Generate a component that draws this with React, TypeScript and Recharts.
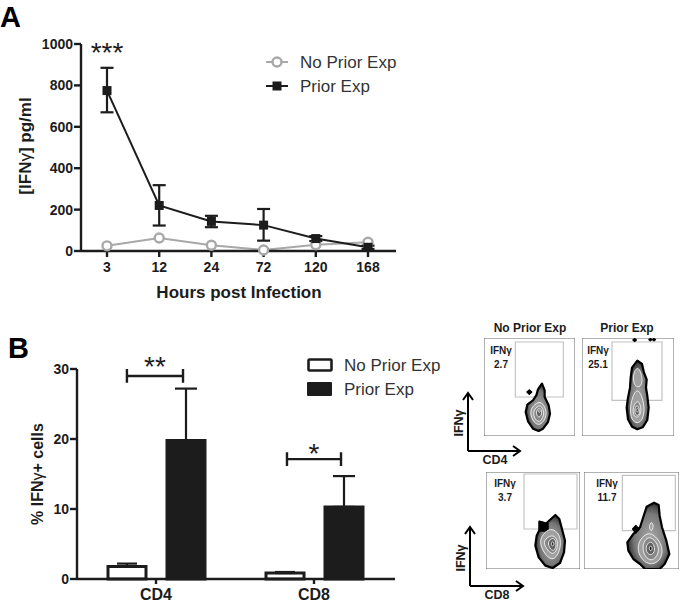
import React from "react";
import {
  Bar,
  ComposedChart,
  ErrorBar,
  Legend,
  Line,
  LineChart,
  ReferenceArea,
  ReferenceDot,
  Scatter,
  ScatterChart,
  XAxis,
  YAxis,
} from "recharts";

const FONT = '"Liberation Sans", Arial, sans-serif';
const INK = "#1c1c1c";
const GREY = "#a8a8a8";

// Panel A: IFNy over time
const hours = ["3", "12", "24", "72", "120", "168"];
const noPriorSerum = [25, 63, 28, 5, 30, 42];
const noPriorSerumErr = [4, 6, 4, 3, 4, 4];
const priorSerum = [775, 220, 143, 125, 60, 18];
const priorSerumLow = [105, 97, 28, 75, 12, 8];
const priorSerumHigh = [110, 98, 27, 78, 12, 8];
const serumTicks = [0, 200, 400, 600, 800, 1000];

// Panel B: IFNy+ cells
const subsets = ["CD4", "CD8"];
const noPriorCells = [1.8, 0.85];
const noPriorCellsErr = [0.4, 0.15];
const priorCells = [19.8, 10.3];
const priorCellsErr = [7.4, 4.4];
const cellTicks = [0, 10, 20, 30];
// bracket ends in group units: 0.5 is the centre of CD4, 1.5 of CD8
const brackets = [
  { from: 0.316, to: 0.671, y: 29.3, mark: "**", markY: 30.7 },
  { from: 1.329, to: 1.671, y: 17.3, mark: "*", markY: 18.2 },
];

const serumRows = hours.map((hour, i) => ({
  hour,
  noPrior: noPriorSerum[i],
  noPriorErr: [noPriorSerumErr[i], noPriorSerumErr[i]],
  prior: priorSerum[i],
  priorErr: [priorSerumLow[i], priorSerumHigh[i]],
}));

const cellRows = subsets.map((subset, i) => ({
  subset,
  noPrior: noPriorCells[i],
  noPriorErr: [0, noPriorCellsErr[i]],
  prior: priorCells[i],
  priorErr: [0, priorCellsErr[i]],
}));

// Flow plots: contour outlines in channel units, outermost first
const cd4NoPriorEdge = [[174,157],[182,137],[182,117],[194,92],[198,67],[192,42],[177,22],[164,15],[147,22],[132,44],[125,72],[130,94],[147,107],[157,122],[162,140],[169,150]];
const cd4NoPriorDots = [[[136,138],[143,132],[136,125],[129,132]]];
const cd4NoPriorLevels = [
  [[170,105],[185,85],[188,62],[178,42],[165,32],[150,40],[140,60],[140,80],[152,95]],
  [[168,95],[178,80],[180,62],[172,48],[165,42],[155,48],[148,62],[150,80]],
  [[167,87],[174,75],[172,62],[165,55],[158,62],[156,75]],
  [[166,80],[170,75],[166,69],[162,75]],
];

const cd4PriorEdge = [[166,226],[180,216],[186,190],[194,170],[192,145],[196,120],[200,85],[196,48],[182,26],[166,20],[150,28],[138,50],[134,85],[138,115],[144,145],[146,175],[150,205]];
const cd4PriorDots = [[[158,292],[163,288],[158,284],[153,288]], [[205,292],[209,289],[205,286],[201,289]], [[216,292],[220,289],[216,286],[212,289]]];
const cd4PriorLevels = [
  [[166,210],[178,190],[182,160],[172,145],[156,150],[152,185]],
  [[166,145],[182,115],[188,80],[182,48],[166,36],[148,48],[144,80],[150,115]],
  [[166,110],[176,92],[178,70],[166,52],[154,62],[152,85]],
  [[166,95],[173,80],[172,65],[166,60],[158,68],[158,82]],
  [[166,85],[170,77],[166,70],[161,77]],
];

const cd8NoPriorEdge = [[208,162],[220,150],[228,120],[237,85],[234,50],[222,18],[200,3],[178,10],[158,35],[148,70],[152,100],[160,116],[160,142],[180,136],[195,150]];
const cd8NoPriorDots = [[[162,142],[186,136],[186,114],[162,114]]];
const cd8NoPriorLevels = [
  [[195,125],[222,105],[225,70],[215,40],[198,25],[175,45],[160,80],[170,105]],
  [[198,105],[215,90],[215,60],[200,40],[180,62],[170,85]],
  [[200,95],[210,85],[210,62],[200,52],[188,68],[186,82]],
  [[200,85],[205,75],[200,66],[195,75]],
];

const cd8PriorEdge = [[210,199],[224,192],[227,160],[234,125],[247,85],[256,45],[242,15],[227,0],[183,0],[168,15],[148,30],[133,55],[130,80],[148,105],[168,125],[176,150],[188,187]];
const cd8PriorDots = [[[155,130],[166,120],[155,108],[146,120]]];
const cd8PriorLevels = [
  [[202,145],[210,128],[202,110],[194,125]],
  [[202,108],[228,85],[238,50],[225,22],[200,12],[175,25],[160,55],[165,85],[185,105]],
  [[200,98],[222,75],[225,50],[212,30],[198,25],[180,40],[175,70],[185,90]],
  [[200,85],[212,70],[212,50],[200,40],[186,50],[186,72]],
  [[200,72],[206,62],[200,52],[194,62]],
];

const flowBottomTicks = [6, 20, 30, 38, 44, 62, 90, 108, 118, 126, 132, 150, 178, 196, 206, 214, 220, 238, 262];
const flowLeftTicks = [32, 62, 132, 197, 262];

const levelFills = ["#a0a0a0", "#868686", "#626262", "#1e1e1e"];

const flowPanels = [
  { key: "cd4-none", left: 484, top: 338, width: 91, height: 98, gate: [94, 238, 117, 282], edge: cd4NoPriorEdge, dots: cd4NoPriorDots, levels: cd4NoPriorLevels },
  { key: "cd4-prior", left: 582, top: 338, width: 92, height: 98, gate: [90, 240, 107, 282], edge: cd4PriorEdge, dots: cd4PriorDots, levels: cd4PriorLevels },
  { key: "cd8-none", left: 486, top: 472, width: 94, height: 97, gate: [114, 273, 120, 285], edge: cd8NoPriorEdge, dots: cd8NoPriorDots, levels: cd8NoPriorLevels },
  { key: "cd8-prior", left: 584, top: 472, width: 95, height: 97, gate: [115, 274, 115, 281], edge: cd8PriorEdge, dots: cd8PriorDots, levels: cd8PriorLevels },
];

const toPoints = (outline: number[][]) => outline.map(([x, y]) => ({ x, y }));
const noMark = () => <g />;

function contour(
  key: string,
  outline: number[][],
  fill: string,
  stroke: string,
  strokeWidth: number,
  joint: "linearClosed" | "basisClosed"
) {
  return (
    <Scatter
      key={key}
      data={toPoints(outline)}
      line={{ fill, stroke, strokeWidth, strokeLinejoin: "round" }}
      lineJointType={joint}
      shape={noMark}
      isAnimationActive={false}
    />
  );
}

function FlowPlot({ panel }: { panel: (typeof flowPanels)[number] }) {
  const [x1, x2, y1, y2] = panel.gate;
  const xMax = panel.width * 3;
  const yMax = panel.height * 3;
  const tickLine = { stroke: "#555", strokeWidth: 1 };
  return (
    <div style={{ position: "absolute", left: panel.left, top: panel.top }}>
      <ScatterChart width={panel.width} height={panel.height} margin={{ top: 0, right: 0, bottom: 0, left: 0 }}>
        <XAxis
          type="number"
          dataKey="x"
          domain={[0, xMax]}
          ticks={flowBottomTicks}
          height={0}
          mirror
          axisLine={false}
          tickLine={tickLine}
          tickSize={2}
          tickFormatter={() => ""}
        />
        <YAxis
          type="number"
          dataKey="y"
          domain={[0, yMax]}
          ticks={flowLeftTicks}
          width={0}
          mirror
          axisLine={false}
          tickLine={tickLine}
          tickSize={3}
          tickFormatter={() => ""}
        />
        <ReferenceArea x1={0} x2={xMax} y1={0} y2={yMax} fill="none" stroke="#666" strokeWidth={1} />
        <ReferenceArea x1={x1} x2={x2} y1={y1} y2={y2} fill="none" stroke="#c2c2c2" strokeWidth={1.2} />
        {contour(panel.key + "-edge", panel.edge, "url(#flowEdge)", "#000", 2.2, "linearClosed")}
        {panel.dots.map((dot, i) => contour(panel.key + "-dot" + i, dot, "#000", "#000", 1.5, "linearClosed"))}
        {panel.levels.map((level, i) =>
          contour(
            panel.key + "-level" + i,
            level,
            levelFills[Math.max(0, i - (panel.levels.length - levelFills.length))],
            "#fff",
            0.8,
            "basisClosed"
          )
        )}
      </ScatterChart>
    </div>
  );
}

const axisLine = { stroke: INK, strokeWidth: 2.4 };
const tickStyle = { fontFamily: FONT, fontSize: 14, fontWeight: 700, fill: INK };
const legendText = { fontFamily: FONT, fontSize: 17, fill: "#333" };

function SerumLegend() {
  return (
    <svg width={150} height={48} style={{ display: "block" }}>
      <line x1={0} x2={22} y1={12} y2={12} stroke={GREY} strokeWidth={2} />
      <circle cx={11} cy={12} r={4.5} fill="#fff" stroke={GREY} strokeWidth={2.4} />
      <text x={34} y={18} {...legendText}>No Prior Exp</text>
      <line x1={0} x2={22} y1={36} y2={36} stroke={INK} strokeWidth={2} />
      <rect x={6.5} y={31.5} width={9} height={9} fill={INK} />
      <text x={34} y={42} {...legendText}>Prior Exp</text>
    </svg>
  );
}

function CellLegend() {
  return (
    <svg width={150} height={54} style={{ display: "block" }}>
      <rect x={1.5} y={5.5} width={23} height={11} rx={1} fill="#fff" stroke={INK} strokeWidth={2.6} />
      <text x={37} y={17} {...legendText}>No Prior Exp</text>
      <rect x={0} y={28} width={25} height={14} rx={1} fill={INK} />
      <text x={37} y={41} {...legendText}>Prior Exp</text>
    </svg>
  );
}

function SquareDot({ cx, cy }: { cx?: number; cy?: number }) {
  return <rect x={(cx ?? 0) - 4.5} y={(cy ?? 0) - 4.5} width={9} height={9} fill={INK} />;
}

function SerumChart() {
  return (
    <div style={{ position: "absolute", left: 0, top: 0 }}>
      <LineChart
        width={440}
        height={310}
        data={serumRows}
        margin={{ top: 44, right: 44, bottom: 29, left: 21 }}
      >
        <XAxis
          dataKey="hour"
          height={30}
          padding={{ left: 26, right: 28 }}
          axisLine={axisLine}
          tickLine={axisLine}
          tickSize={6}
          tick={tickStyle}
          tickMargin={5}
          interval={0}
        />
        <YAxis
          domain={[0, 1000]}
          ticks={serumTicks}
          width={60}
          axisLine={axisLine}
          tickLine={axisLine}
          tickSize={7}
          tick={tickStyle}
          tickMargin={1}
        />
        <Legend
          layout="horizontal"
          align="center"
          verticalAlign="middle"
          content={<SerumLegend />}
          wrapperStyle={{ left: 266, top: 50, width: 150 }}
        />
        <Line
          dataKey="noPrior"
          stroke={GREY}
          strokeWidth={2}
          dot={{ r: 4.5, fill: "#fff", stroke: GREY, strokeWidth: 2.4 }}
          isAnimationActive={false}
        >
          <ErrorBar dataKey="noPriorErr" width={4} stroke={GREY} strokeWidth={2} />
        </Line>
        <Line
          dataKey="prior"
          stroke={INK}
          strokeWidth={2}
          dot={<SquareDot />}
          isAnimationActive={false}
        >
          <ErrorBar dataKey="priorErr" width={6.5} stroke={INK} strokeWidth={2.2} />
        </Line>
        <ReferenceDot
          x="3"
          y={960}
          r={0}
          fill="none"
          stroke="none"
          label={{ value: "***", position: "center", fontFamily: FONT, fontSize: 28, fill: INK }}
        />
      </LineChart>
    </div>
  );
}

function CellChart() {
  return (
    <div style={{ position: "absolute", left: 0, top: 330 }}>
      <ComposedChart
        width={470}
        height={278}
        data={cellRows}
        barSize={38}
        barGap={21}
        margin={{ top: 39, right: 75, bottom: 0, left: 17 }}
      >
        <XAxis
          dataKey="subset"
          height={29}
          padding={{ left: 0, right: 2 }}
          axisLine={axisLine}
          tickLine={axisLine}
          tickSize={5}
          tick={{ ...tickStyle, fontSize: 16 }}
          tickMargin={5}
        />
        <YAxis
          domain={[0, 30]}
          ticks={cellTicks}
          width={60}
          axisLine={axisLine}
          tickLine={axisLine}
          tickSize={7}
          tick={tickStyle}
          tickMargin={1}
        />
        <Legend
          layout="horizontal"
          align="center"
          verticalAlign="middle"
          content={<CellLegend />}
          wrapperStyle={{ left: 307, top: 24, width: 150 }}
        />
        <Bar dataKey="noPrior" fill="#fff" stroke={INK} strokeWidth={3} isAnimationActive={false}>
          <ErrorBar dataKey="noPriorErr" width={10} stroke={INK} strokeWidth={2.2} />
        </Bar>
        <Bar dataKey="prior" fill={INK} stroke={INK} strokeWidth={3} isAnimationActive={false}>
          <ErrorBar dataKey="priorErr" width={11} stroke={INK} strokeWidth={2.2} />
        </Bar>
      </ComposedChart>
    </div>
  );
}

// Significance brackets sit on their own numeric scale over the same plot area
function BracketLayer() {
  return (
    <div style={{ position: "absolute", left: 0, top: 330 }}>
      <ScatterChart width={410} height={278} margin={{ top: 39, right: 15, bottom: 29, left: 77 }}>
        <XAxis type="number" dataKey="x" domain={[0, 2.0127]} hide />
        <YAxis type="number" dataKey="y" domain={[0, 30]} hide />
        {brackets.map((b) => (
          <Scatter
            key={b.mark}
            data={[
              { x: b.from, y: b.y - 1 },
              { x: b.from, y: b.y + 1 },
              { x: b.from, y: b.y },
              { x: b.to, y: b.y },
              { x: b.to, y: b.y + 1 },
              { x: b.to, y: b.y - 1 },
            ]}
            line={{ stroke: INK, strokeWidth: 2.4 }}
            shape={noMark}
            isAnimationActive={false}
          />
        ))}
        {brackets.map((b) => (
          <ReferenceDot
            key={"mark" + b.mark}
            x={(b.from + b.to) / 2}
            y={b.markY}
            r={0}
            fill="none"
            stroke="none"
            ifOverflow="visible"
            label={{ value: b.mark, position: "center", fontFamily: FONT, fontSize: 28, fill: INK }}
          />
        ))}
      </ScatterChart>
    </div>
  );
}

function Gamma() {
  return <tspan fontWeight={400}>γ</tspan>;
}

// Everything that is not tied to a scale: panel letters, axis titles, flow captions
function Annotations() {
  const bold = { fontFamily: FONT, fontWeight: 700, fill: INK };
  const arrow = { stroke: "#000", strokeWidth: 2, fill: "none" };
  return (
    <svg width={680} height={608} style={{ position: "absolute", left: 0, top: 0, pointerEvents: "none" }}>
      <defs>
        <radialGradient id="flowEdge" cx="55%" cy="55%" r="60%">
          <stop offset="0%" stopColor="#aaa" />
          <stop offset="65%" stopColor="#777" />
          <stop offset="100%" stopColor="#1a1a1a" />
        </radialGradient>
      </defs>
      <text x={0} y={26.5} fontFamily={FONT} fontWeight={700} fontSize={29} fill="#000">A</text>
      <text x={8} y={358} fontFamily={FONT} fontWeight={700} fontSize={29} fill="#000">B</text>

      <text x={31} y={146} transform="rotate(-90 31 146)" textAnchor="middle" fontSize={17} {...bold}>
        [IFN<Gamma />] pg/ml
      </text>
      <text x={239} y={298} textAnchor="middle" fontSize={17} {...bold}>Hours post Infection</text>
      <text x={43} y={474} transform="rotate(-90 43 474)" textAnchor="middle" fontSize={16} {...bold}>
        % IFN<Gamma />+ cells
      </text>

      <text x={530} y={332} textAnchor="middle" fontSize={12} {...bold}>No Prior Exp</text>
      <text x={627} y={332} textAnchor="middle" fontSize={12} {...bold}>Prior Exp</text>

      <text x={501} y={354} textAnchor="middle" fontSize={10} {...bold}>IFNγ</text>
      <text x={501} y={368} textAnchor="middle" fontSize={10} {...bold}>2.7</text>
      <text x={598} y={354} textAnchor="middle" fontSize={10} {...bold}>IFNγ</text>
      <text x={598} y={368} textAnchor="middle" fontSize={10} {...bold}>25.1</text>
      <text x={505} y={487} textAnchor="middle" fontSize={10} {...bold}>IFNγ</text>
      <text x={505} y={501} textAnchor="middle" fontSize={10} {...bold}>3.7</text>
      <text x={607} y={487} textAnchor="middle" fontSize={10} {...bold}>IFNγ</text>
      <text x={607} y={501} textAnchor="middle" fontSize={10} {...bold}>11.7</text>

      <path d="M468 451V394M463 400L468 393L473 400M468 451H519M513 446L520 451L513 456" {...arrow} />
      <text x={463} y={423} transform="rotate(-90 463 423)" textAnchor="middle" fontSize={12.5} {...bold}>IFNγ</text>
      <text x={495} y={464} textAnchor="middle" fontSize={12.5} {...bold}>CD4</text>

      <path d="M470 586V528M465 534L470 527L475 534M470 586H522M516 581L523 586L516 591" {...arrow} />
      <text x={465} y={558} transform="rotate(-90 465 558)" textAnchor="middle" fontSize={12.5} {...bold}>IFNγ</text>
      <text x={497} y={599} textAnchor="middle" fontSize={12.5} {...bold}>CD8</text>
    </svg>
  );
}

export default function App() {
  return (
    <div style={{ position: "absolute", left: 0, top: 0, width: 680, height: 608, background: "#fff", overflow: "hidden" }}>
      <SerumChart />
      <CellChart />
      <BracketLayer />
      {flowPanels.map((panel) => (
        <FlowPlot key={panel.key} panel={panel} />
      ))}
      <Annotations />
    </div>
  );
}
